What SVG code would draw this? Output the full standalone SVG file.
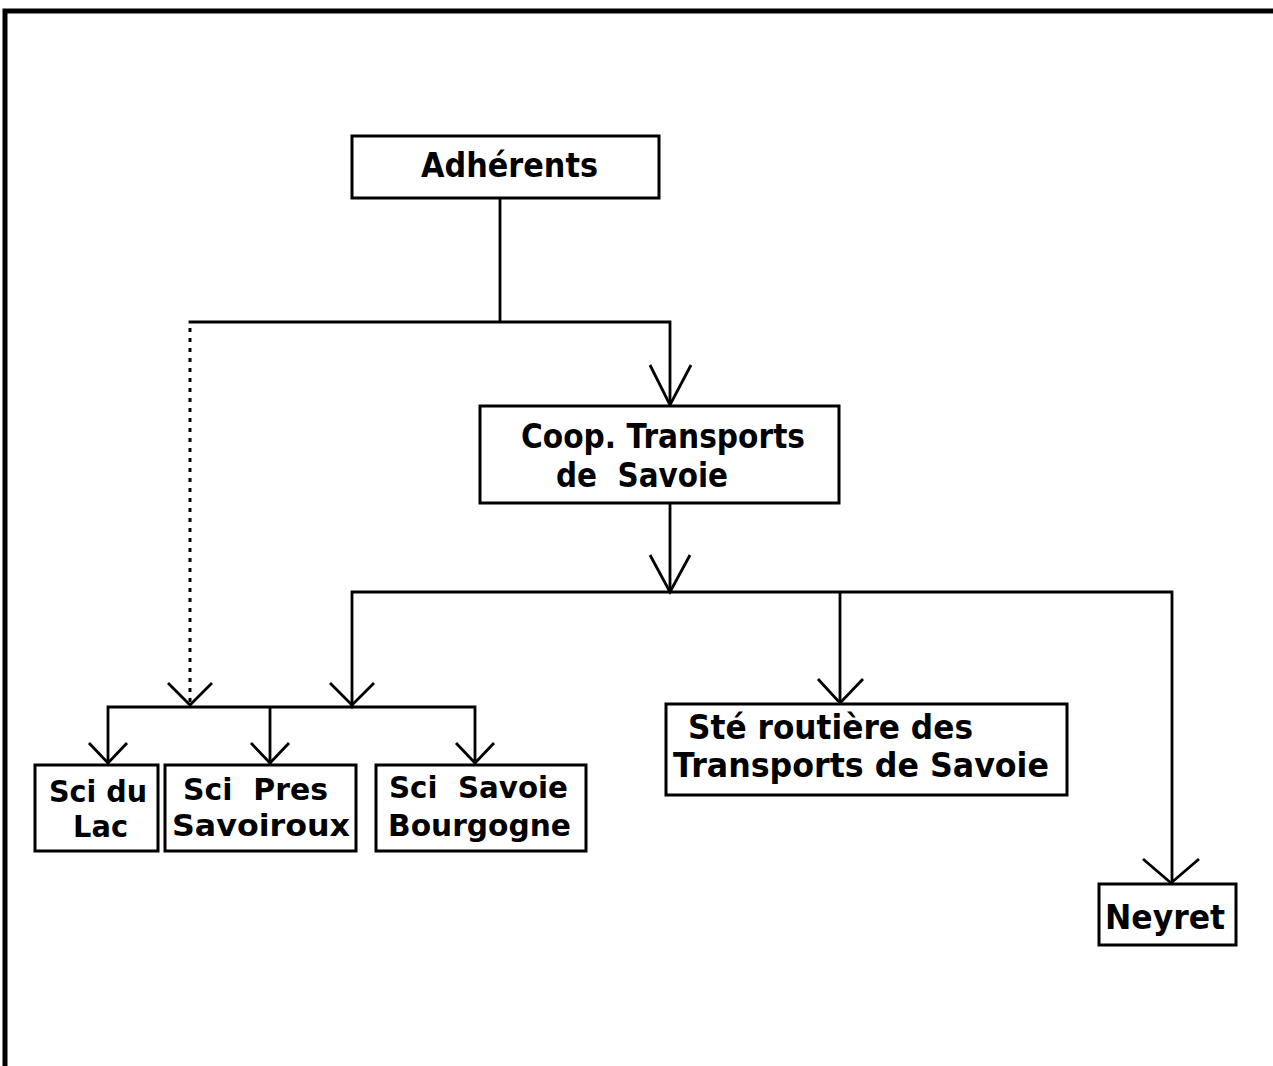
<svg xmlns="http://www.w3.org/2000/svg" width="1273" height="1066" viewBox="0 0 1273 1066">
<style>
.box{fill:#fff;stroke:#000;stroke-width:3}
.lbl{font-family:"DejaVu Sans","Liberation Sans",sans-serif;font-weight:bold;font-size:33px;fill:#000;white-space:pre}
.sm{font-size:30px}
.ln{fill:none;stroke:#000;stroke-width:2.8;stroke-linecap:square}
.ah{fill:none;stroke:#000;stroke-width:2.8;stroke-linejoin:miter}
.dash{fill:none;stroke:#000;stroke-width:3;stroke-dasharray:4 6}
.frame{fill:none;stroke:#000;stroke-width:5}
</style>
<rect width="1273" height="1066" fill="#fff"/>
<path class="frame" d="M5,1066 V11 H1273"/>
<g id="connectors">
<path class="ln" d="M500,199 V322 M190,322 H670 V405"/>
<polyline class="ah" points="650,365 670,405 691,365"/>
<path class="dash" d="M190,328 V703"/>
<polyline class="ah" points="168,683 190,705 212,683"/>
<path class="ln" d="M670,503 V592 M352,592 H1172 M352,592 V707 M840,592 V703 M1172,592 V882"/>
<polyline class="ah" points="650,555 670,592 690,555"/>
<polyline class="ah" points="330,683 352,705 374,683"/>
<polyline class="ah" points="818,679 840,703 863,679"/>
<polyline class="ah" points="1143,859 1171,883 1199,859"/>
<path class="ln" d="M108,707 H475 M108,707 V763 M270,707 V763 M475,707 V763"/>
<polyline class="ah" points="89,743 108,763 127,743"/>
<polyline class="ah" points="251,743 270,763 289,743"/>
<polyline class="ah" points="456,743 475,763 494,743"/>
</g>
<g id="adherents">
<rect class="box" x="352" y="136" width="307" height="62"/>
<text class="lbl" x="421" y="177" textLength="177" lengthAdjust="spacingAndGlyphs">Adhérents</text>
</g>
<g id="coop">
<rect class="box" x="480" y="406" width="359" height="97"/>
<text class="lbl" x="521" y="448" textLength="284" lengthAdjust="spacingAndGlyphs">Coop. Transports</text>
<text class="lbl" x="556" y="487" textLength="172" lengthAdjust="spacingAndGlyphs">de  Savoie</text>
</g>
<g id="sci-du-lac">
<rect class="box" x="35" y="765" width="123" height="86"/>
<text class="lbl sm" x="49" y="802" textLength="98" lengthAdjust="spacingAndGlyphs">Sci du</text>
<text class="lbl sm" x="73" y="837" textLength="55" lengthAdjust="spacingAndGlyphs">Lac</text>
</g>
<g id="sci-pres-savoiroux">
<rect class="box" x="165" y="765" width="191" height="86"/>
<text class="lbl sm" x="183" y="800" textLength="145" lengthAdjust="spacingAndGlyphs">Sci  Pres</text>
<text class="lbl sm" x="172" y="836" textLength="178" lengthAdjust="spacingAndGlyphs">Savoiroux</text>
</g>
<g id="sci-savoie-bourgogne">
<rect class="box" x="376" y="765" width="210" height="86"/>
<text class="lbl sm" x="389" y="798" textLength="179" lengthAdjust="spacingAndGlyphs">Sci  Savoie</text>
<text class="lbl sm" x="388" y="836" textLength="183" lengthAdjust="spacingAndGlyphs">Bourgogne</text>
</g>
<g id="ste-routiere">
<rect class="box" x="666" y="704" width="401" height="91"/>
<text class="lbl" x="688" y="739" textLength="285" lengthAdjust="spacingAndGlyphs">Sté routière des</text>
<text class="lbl" x="673" y="777" textLength="376" lengthAdjust="spacingAndGlyphs">Transports de Savoie</text>
</g>
<g id="neyret">
<rect class="box" x="1099" y="884" width="137" height="61"/>
<text class="lbl" x="1105" y="929" textLength="120" lengthAdjust="spacingAndGlyphs">Neyret</text>
</g>
</svg>
